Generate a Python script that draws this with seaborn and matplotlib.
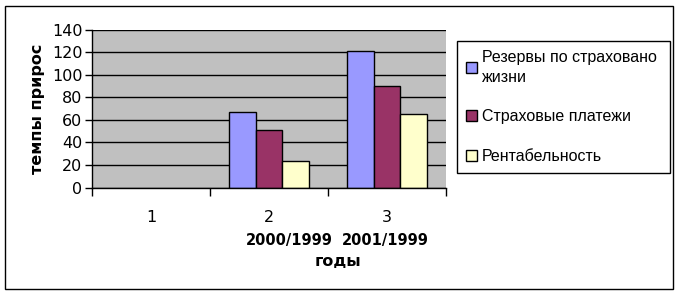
import numpy as np
import pandas as pd
import matplotlib
matplotlib.use("Agg")
import matplotlib.pyplot as plt
from matplotlib.patches import Rectangle
import seaborn as sns

categories = ["1", "2", "3"]
period_labels = ["", "2000/1999", "2001/1999"]
series_names = ["Резервы по страховано\nжизни", "Страховые платежи", "Рентабельность"]
reserves = [np.nan, 66.7, 120.7]
payments = [np.nan, 50.7, 89.7]
profitability = [np.nan, 23.2, 64.9]
colors = ["#9999FF", "#993366", "#FFFFCC"]

rows = []
for name, vals in zip(series_names, [reserves, payments, profitability]):
    for c, v in zip(categories, vals):
        rows.append({"cat": c, "val": v, "series": name})
df = pd.DataFrame(rows)

sns.set_style("white")
plt.rcParams["font.family"] = ["DejaVu Sans"]
for k in ["text.color", "axes.labelcolor", "xtick.color", "ytick.color"]:
    plt.rcParams[k] = "black"

fig = plt.figure(figsize=(6.8, 2.95), dpi=100)
ax = fig.add_axes([92/680, 1-187.5/295, (446-92)/680, (187.5-29.5)/295])
ax.set_facecolor("#C0C0C0")

sns.barplot(data=df, x="cat", y="val", hue="series", palette=colors,
            edgecolor="black", linewidth=1, width=0.67, ax=ax,
            order=categories, hue_order=series_names, saturation=1, legend=True)

ax.set_ylim(0, 140)
ax.set_xlim(-0.5, 2.5)
ax.set_yticks(np.arange(0, 141, 20))
ax.yaxis.grid(True, color="black", linewidth=1)
ax.set_axisbelow(True)
for s in ["top", "right"]:
    ax.spines[s].set_visible(False)
for s in ["left", "bottom"]:
    ax.spines[s].set_color("black")
    ax.spines[s].set_linewidth(1)

ax.tick_params(axis="y", which="major", direction="out", length=5, width=1,
               color="black", labelcolor="black", labelsize=11.5, left=True, pad=2)
ax.set_xticks([-0.5, 0.5, 1.5, 2.5])
ax.set_xticklabels([])
ax.tick_params(axis="x", which="major", direction="out", length=6, width=1,
               color="black", bottom=True)
ax.set_xticks([0, 1, 2], minor=True)
ax.set_xticklabels(categories, minor=True)
ax.tick_params(axis="x", which="minor", length=0, labelsize=11.5, labelcolor="black", pad=16)

ax.set_xlabel("")
ax.set_ylabel("темпы прирос", fontsize=11.5, fontweight="bold", labelpad=5, color="black")

fig.text(289/680, 1-240/295, period_labels[1], ha="center", va="center",
         fontsize=10.5, fontweight="bold", color="black")
fig.text(385/680, 1-240/295, period_labels[2], ha="center", va="center",
         fontsize=10.5, fontweight="bold", color="black")
fig.text(338/680, 1-262/295, "годы", ha="center", va="center",
         fontsize=11.5, fontweight="bold", color="black")

handles, labels = ax.get_legend_handles_labels()
ax.get_legend().remove()
leg = fig.legend(handles, labels, loc="upper left", mode="expand",
                 bbox_to_anchor=(457/680, 1-41/295, 213/680, 0), bbox_transform=fig.transFigure,
                 frameon=True, fancybox=False, edgecolor="black", framealpha=1,
                 prop={"family": "Liberation Sans", "size": 11.5},
                 handlelength=0.7, handleheight=0.7, handletextpad=0.3,
                 labelspacing=1.55, borderpad=0.55, borderaxespad=0, labelcolor="black")
for t in leg.get_texts():
    t.set_linespacing(1.4)
leg.get_frame().set_linewidth(1)

fig.patches.append(Rectangle((5/680, 6/295), 668/680, 283/295, transform=fig.transFigure,
                             fill=False, edgecolor="black", linewidth=1))

fig.savefig("out.png", dpi=100, facecolor="white")
